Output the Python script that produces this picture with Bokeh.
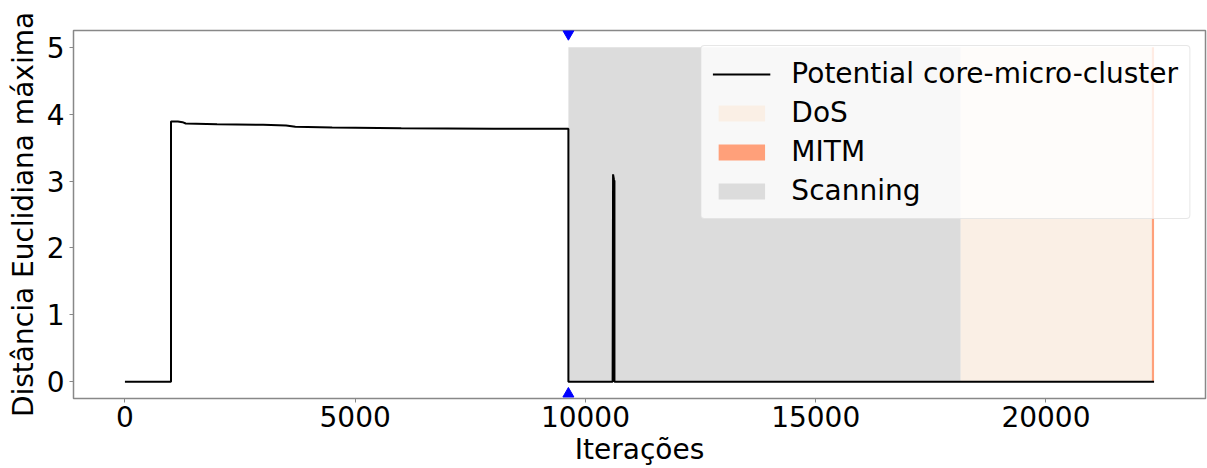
from bokeh.plotting import figure
from bokeh.models import Range1d, FixedTicker, Legend, LegendItem
from bokeh.embed import file_html
from bokeh.resources import INLINE

# Line series: potential core-micro-cluster max Euclidean distance
iter_x = [0, 1000, 1000, 1150, 1250, 1320, 2000, 3000, 3500, 3700, 4500, 6000, 8000, 9630,
          9630, 10590, 10600, 10620, 10630, 10630, 22348]
dist_y = [0, 0, 3.89, 3.89, 3.88, 3.86, 3.85, 3.84, 3.83, 3.81, 3.80, 3.79, 3.78, 3.78,
          0, 0, 3.10, 3.02, 3.00, 0, 0]

# Attack spans
span_labels = ["Scanning", "DoS", "MITM"]
span_start = [9630, 18150, 22300]
span_end = [18150, 22300, 22348]
span_low = [0, 0, 0]
span_high = [5, 5, 5]
span_colors = ["#dcdcdc", "#faefe5", "#ffa07a"]

# Event markers
event_x = [9630]
event_top = [5.2]
event_bottom = [-0.18]

x_ticks = [0, 5000, 10000, 15000, 20000]
y_ticks = [0, 1, 2, 3, 4, 5]

FONT = "DejaVu Sans"
FS = "28px"

p = figure(width=1207, height=468, output_backend="svg", toolbar_location=None,
           x_range=Range1d(-1117, 23465), y_range=Range1d(-0.25, 5.25),
           min_border_left=73, min_border_right=2, min_border_top=30, min_border_bottom=70)

p.xgrid.visible = False
p.ygrid.visible = False
p.outline_line_color = "#888888"
p.outline_line_width = 1.5
p.background_fill_color = "white"

spans = {}
for lab, s, e, lo, hi, c in zip(span_labels, span_start, span_end, span_low, span_high, span_colors):
    spans[lab] = p.quad(left=[s], right=[e], bottom=[lo], top=[hi], fill_color=c,
                        line_color=None)

line = p.line(iter_x, dist_y, line_color="black", line_width=2)

p.scatter(event_x, event_top, marker="inverted_triangle", size=11, color="blue")
p.scatter(event_x, event_bottom, marker="triangle", size=11, color="blue")

for ax in (p.xaxis[0], p.yaxis[0]):
    ax.axis_line_color = None
    ax.major_tick_line_color = "#888888"
    ax.major_tick_in = 0
    ax.major_tick_out = 4
    ax.minor_tick_line_color = None
    ax.major_label_text_font = FONT
    ax.major_label_text_font_size = FS
    ax.major_label_text_color = "black"
    ax.axis_label_text_font = FONT
    ax.axis_label_text_font_size = FS
    ax.axis_label_text_font_style = "normal"
    ax.axis_label_text_color = "black"

p.xaxis.ticker = FixedTicker(ticks=x_ticks)
p.yaxis.ticker = FixedTicker(ticks=y_ticks)
p.xaxis.axis_label = "Iterações"
p.yaxis.axis_label = "Distância Euclidiana máxima"
p.xaxis.major_label_standoff = 3
p.xaxis.axis_label_standoff = 3
p.yaxis.major_label_standoff = 5
p.yaxis.axis_label_standoff = 4

legend = Legend(items=[
    LegendItem(label="Potential core-micro-cluster", renderers=[line]),
    LegendItem(label="DoS", renderers=[spans["DoS"]]),
    LegendItem(label="MITM", renderers=[spans["MITM"]]),
    LegendItem(label="Scanning", renderers=[spans["Scanning"]]),
], location="top_right")
legend.margin = 15
legend.padding = 11
legend.spacing = 6
legend.glyph_width = 58
legend.glyph_height = 20
legend.label_height = 28
legend.label_standoff = 21
legend.label_text_font = FONT
legend.label_text_font_size = FS
legend.label_text_color = "black"
legend.background_fill_color = "white"
legend.background_fill_alpha = 0.8
legend.border_line_color = "#d0d0d0"
legend.border_line_width = 1
legend.border_radius = 4
p.add_layout(legend)

open("out.html", "w").write(file_html(p, INLINE))
